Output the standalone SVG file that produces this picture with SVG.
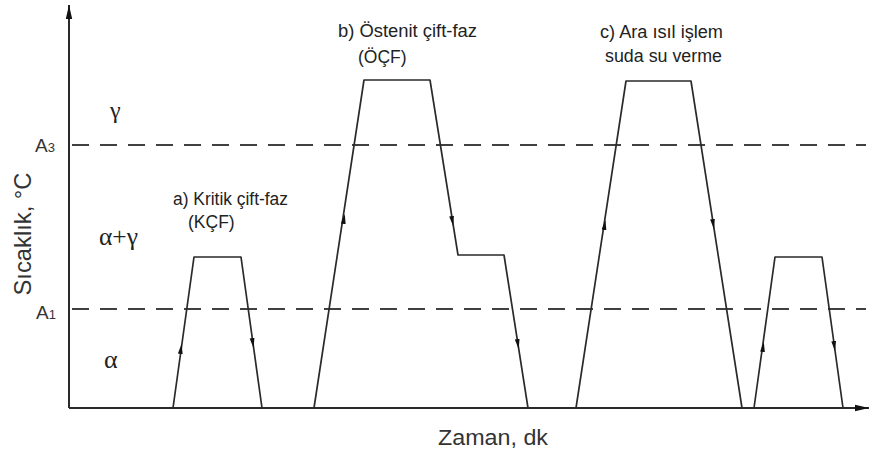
<svg xmlns="http://www.w3.org/2000/svg" width="871" height="455" viewBox="0 0 871 455">
<style>
  .axis { stroke: #2a2a2a; stroke-width: 2; fill: none; }
  .dash { stroke: #404040; stroke-width: 2; fill: none; stroke-dasharray: 17 11; }
  .curve { stroke: #2a2a2a; stroke-width: 1.7; fill: none; stroke-linejoin: round; }
  .tick { stroke: none; fill: none; }
  .lbl { font-family: "Liberation Sans", Arial, sans-serif; font-size: 17.5px; fill: #222; }
  .big { font-family: "Liberation Sans", Arial, sans-serif; fill: #333; }
  .greek { font-family: "Liberation Serif", "DejaVu Serif", serif; fill: #222; }
</style>
<defs>
  <marker id="ah" viewBox="0 0 10 6" refX="10" refY="3" markerWidth="10" markerHeight="6" markerUnits="userSpaceOnUse" orient="auto">
    <path d="M0,0.6 L10,3 L0,5.4 Z" fill="#111"/>
  </marker>
  <marker id="axh" viewBox="0 0 14 8" refX="14" refY="4" markerWidth="14" markerHeight="8" markerUnits="userSpaceOnUse" orient="auto">
    <path d="M0,0.8 L14,4 L0,7.2 Z" fill="#111"/>
  </marker>
</defs>
<rect width="871" height="455" fill="#ffffff"/>

<g id="axes">
  <path class="axis" d="M69,408 L69,5" marker-end="url(#axh)"/>
  <path class="axis" d="M69,408 L869,408" marker-end="url(#axh)"/>
</g>

<g id="reference-lines">
  <line class="dash" x1="72" y1="145" x2="866" y2="145"/>
  <line class="dash" x1="72" y1="309" x2="866" y2="309"/>
</g>

<g id="axis-labels">
  <text class="big" font-size="24" text-anchor="middle" textLength="123" lengthAdjust="spacingAndGlyphs" transform="translate(31,234) rotate(-90)">Sıcaklık, °C</text>
  <text class="big" x="438" y="445" font-size="22" textLength="110" lengthAdjust="spacingAndGlyphs">Zaman, dk</text>
  <text class="big" x="35" y="152" font-size="19">A<tspan font-size="13">3</tspan></text>
  <text class="big" x="36" y="319" font-size="19">A<tspan font-size="13">1</tspan></text>
  <text class="greek" x="110" y="118" font-size="24">γ</text>
  <text class="greek" x="99" y="245" font-size="25" textLength="39" lengthAdjust="spacingAndGlyphs">α+γ</text>
  <text class="greek" x="104" y="368" font-size="26">α</text>
</g>

<g id="connectors">
  <!-- a) critical two-phase -->
  <g id="cycle-a">
    <polyline class="curve" points="173,408 194,257 241,257 262,408"/>
    <path class="tick" d="M180.4,353 L181.6,344" marker-end="url(#ah)"/>
    <path class="tick" d="M252.2,339 L253.5,348" marker-end="url(#ah)"/>
  </g>
  <!-- b) austenite two-phase -->
  <g id="cycle-b">
    <polyline class="curve" points="314,408 364,80 430,80 458,255 504,255 528,408"/>
    <path class="tick" d="M343.4,223 L344.8,214" marker-end="url(#ah)"/>
    <path class="tick" d="M451.7,217 L453.2,226" marker-end="url(#ah)"/>
    <path class="tick" d="M517.3,340 L518.7,349" marker-end="url(#ah)"/>
  </g>
  <!-- c) intermediate heat treatment, water quench -->
  <g id="cycle-c">
    <polyline class="curve" points="576,408 626,81 691,81 742,408"/>
    <path class="tick" d="M604.1,229 L605.5,220" marker-end="url(#ah)"/>
    <path class="tick" d="M712.6,220 L714,229" marker-end="url(#ah)"/>
    <polyline class="curve" points="754,408 775,257 822,257 843,408"/>
    <path class="tick" d="M762.6,351 L763.8,342" marker-end="url(#ah)"/>
    <path class="tick" d="M833.8,342 L835,351" marker-end="url(#ah)"/>
  </g>
</g>

<g id="label-a">
  <text class="lbl" x="173" y="205" textLength="115" lengthAdjust="spacingAndGlyphs">a) Kritik çift-faz</text>
  <text class="lbl" x="188" y="228">(KÇF)</text>
</g>
<g id="label-b">
  <text class="lbl" x="338" y="37" textLength="139" lengthAdjust="spacingAndGlyphs">b) Östenit çift-faz</text>
  <text class="lbl" x="358" y="63">(ÖÇF)</text>
</g>
<g id="label-c">
  <text class="lbl" x="600" y="38" textLength="123" lengthAdjust="spacingAndGlyphs">c) Ara ısıl işlem</text>
  <text class="lbl" x="605" y="62" textLength="117" lengthAdjust="spacingAndGlyphs">suda su verme</text>
</g>
</svg>
